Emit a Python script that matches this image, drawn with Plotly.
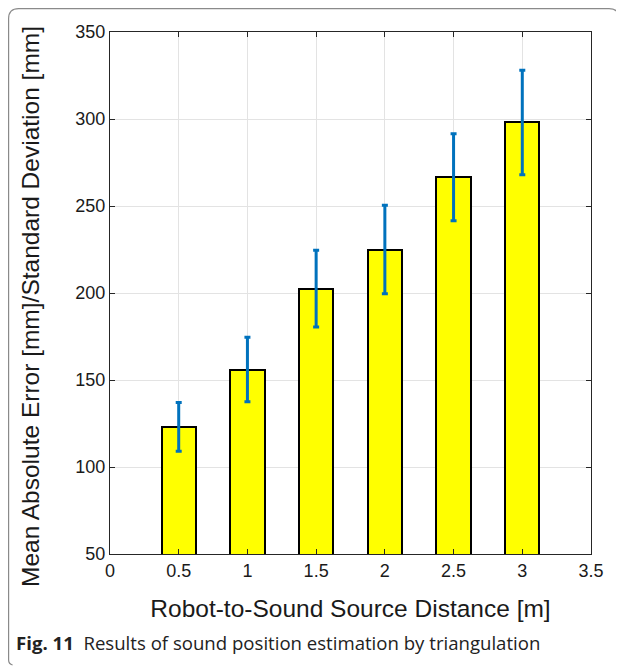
import plotly.graph_objects as go

# Data
distances = [0.5, 1.0, 1.5, 2.0, 2.5, 3.0]
mean_error = [123, 156, 202.5, 225, 266.5, 298]
std_dev = [14, 18.5, 22, 25.5, 25, 30]
x_ticks = [0, 0.5, 1, 1.5, 2, 2.5, 3, 3.5]
x_tick_labels = ["0", "0.5", "1", "1.5", "2", "2.5", "3", "3.5"]
y_ticks = [50, 100, 150, 200, 250, 300, 350]

OFF = 8  # page body margin
W, H = 624 - OFF, 666 - OFF
L, R, T, B = 110 - OFF, 33, 32 - OFF, 112
PW, PH = W - L - R, H - T - B


def px(x):
    """screenshot x -> paper"""
    return (x - OFF - L) / PW


def py(y):
    """screenshot y -> paper"""
    return (H - B - (y - OFF)) / PH


FONT = "Liberation Sans, Arial"

fig = go.Figure()
fig.add_trace(go.Bar(
    x=distances, y=mean_error, width=0.25,
    marker=dict(color="#FFFF00", line=dict(color="#000000", width=2)),
    error_y=dict(type="data", array=std_dev, visible=True,
                 color="#0072BD", thickness=3, width=3),
))

axis_common = dict(
    showline=True, mirror="ticks", linecolor="#262626", linewidth=1,
    ticks="inside", ticklen=5, tickcolor="#262626",
    showgrid=True, gridcolor="#E3E3E3", gridwidth=1, zeroline=False,
    tickfont=dict(family=FONT, size=18, color="#1a1a1a"),
)

fig.update_xaxes(range=[0, 3.5], tickvals=x_ticks, ticktext=x_tick_labels,
                 title=dict(text="Robot-to-Sound Source Distance [m]",
                            font=dict(family=FONT, size=24.5, color="#1a1a1a"),
                            standoff=20),
                 **axis_common)
fig.update_yaxes(range=[50, 350], tickvals=y_ticks, **axis_common)

# y-axis title (placed explicitly, centred on the figure height like the original)
fig.add_annotation(
    x=px(30), y=py(307), xref="paper", yref="paper", xanchor="center", yanchor="middle",
    text="Mean Absolute Error [mm]/Standard Deviation [mm]", textangle=-90,
    showarrow=False, font=dict(family=FONT, size=24.5, color="#1a1a1a"),
)

# caption
fig.add_annotation(
    x=px(14), y=py(643), xref="paper", yref="paper", xanchor="left", yanchor="middle",
    text="<b>Fig. 11</b>  Results of sound position estimation by triangulation",
    showarrow=False, font=dict(family="Open Sans", size=18.6, color="#222222"),
)

# rounded frame (left + top, partially right)
r = 10
x0, x1, y0, y1 = 8.6, 619, 8.6, 660
path = (
    f"M {px(x0)},{py(y1)} "
    f"L {px(x0)},{py(y0 + r)} "
    f"Q {px(x0)},{py(y0)} {px(x0 + r)},{py(y0)} "
    f"L {px(x1 - r)},{py(y0)} "
    f"Q {px(x1)},{py(y0)} {px(x1)},{py(y0 + r)} "
    f"L {px(x1)},{py(y0 + 25)}"
)
fig.add_shape(type="path", path=path, xref="paper", yref="paper",
              line=dict(color="#8a8a8a", width=1.2), layer="above")
fig.add_shape(type="path",
              path=f"M {px(x0)},{py(y1)} Q {px(x0)},{py(y1 + 4)} {px(x0 + 4)},{py(y1 + 5)}",
              xref="paper", yref="paper", line=dict(color="#8a8a8a", width=1.2))

fig.update_layout(
    width=W, height=H, margin=dict(l=L, r=R, t=T, b=B, autoexpand=False),
    plot_bgcolor="white", paper_bgcolor="white", showlegend=False,
    bargap=0,
)
fig.write_html("out.html")
